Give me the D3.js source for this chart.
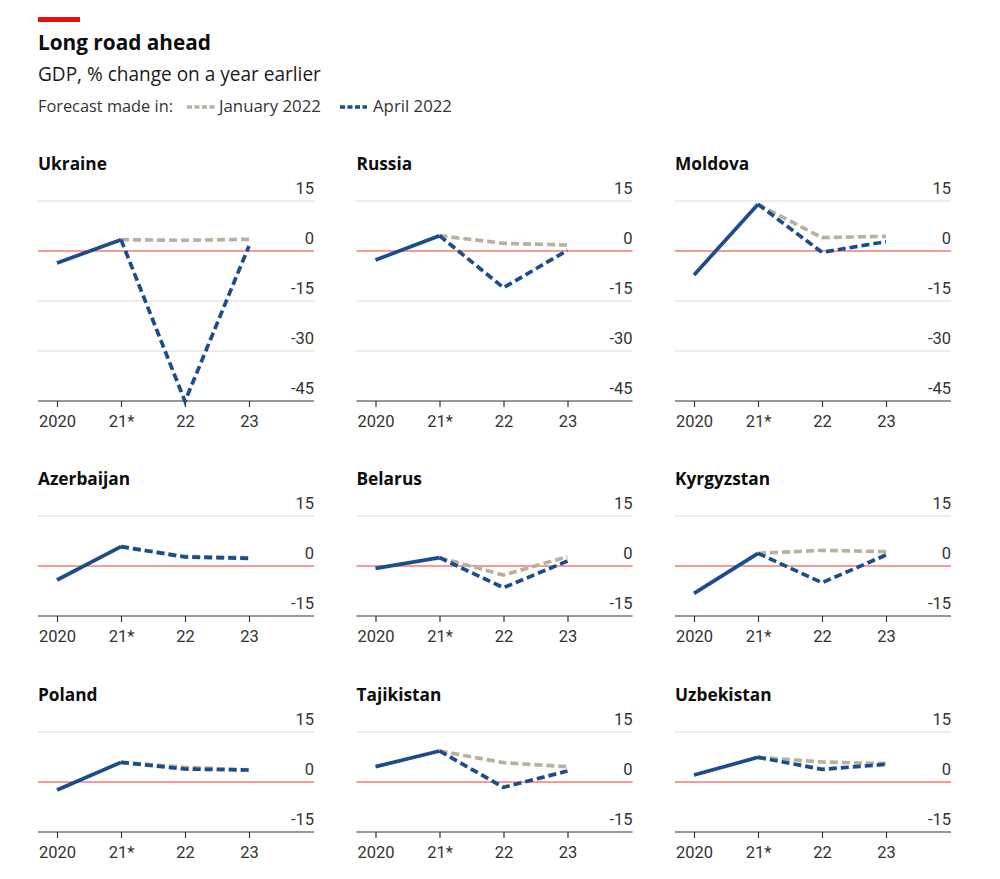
<!DOCTYPE html>
<html>
<head>
<meta charset="utf-8">
<script src="https://cdn.jsdelivr.net/npm/d3@7"></script>
<style>
  html, body { margin: 0; padding: 0; background: #fff; }
  svg { display: block; }
  text { font-family: "Open Sans", "Noto Sans", sans-serif; }
  .tk text { font-family: Roboto, "Noto Sans", sans-serif; }
</style>
</head>
<body>
<svg id="chart" width="1000" height="879"></svg>
<script>
// ---- Data ----
const years = ["2020", "21*", "22", "23"];
const countries = ["Ukraine", "Russia", "Moldova", "Azerbaijan", "Belarus", "Kyrgyzstan", "Poland", "Tajikistan", "Uzbekistan"];
const actual2020   = [-3.6, -2.7, -7.2, -4.2, -0.7, -8.2, -2.4, 4.6, 2.1];
const estimate2021 = [3.4, 4.6, 14.0, 5.8, 2.5, 3.8, 5.9, 9.3, 7.4];
const jan2022For22 = [3.2, 2.3, 4.0, 2.9, -2.7, 4.7, 4.4, 5.8, 6.0];
const jan2022For23 = [3.5, 1.8, 4.4, 2.5, 2.8, 4.3, 3.6, 4.6, 5.5];
const apr2022For22 = [-45.1, -11.0, -0.4, 2.7, -6.5, -5.0, 3.9, -1.6, 3.8];
const apr2022For23 = [1.5, 0.2, 2.8, 2.3, 1.5, 3.3, 3.6, 3.3, 5.3];
const yTicksDeep = [15, 0, -15, -30, -45];
const yTicksShallow = [15, 0, -15];

// ---- Styles ----
const BLUE = "#1b4d8c";
const GRAY = "#b6b1a1";
const RED_ZERO = "#ef7d76";
const GRID = "#d9d9d9";

const svg = d3.select("#chart");

// scale a text's font-size so that it spans the given width
function fitWidth(sel, target) {
  const fs = +sel.attr("font-size");
  const w = sel.node().getComputedTextLength();
  if (w > 0) sel.attr("font-size", (fs * target / w).toFixed(2));
  return sel;
}

// Header
svg.append("rect").attr("x", 38).attr("y", 17).attr("width", 42).attr("height", 5).attr("fill", "#e3120b");
fitWidth(svg.append("text").attr("x", 38).attr("y", 50).attr("font-size", 20).attr("font-weight", 700)
  .attr("fill", "#0d0d0d").text("Long road ahead"), 173);
fitWidth(svg.append("text").attr("x", 38).attr("y", 81).attr("font-size", 18).attr("fill", "#1a1a1a")
  .text("GDP, % change on a year earlier"), 283);
const legY = 107;
fitWidth(svg.append("text").attr("x", 38).attr("y", legY + 5).attr("font-size", 15).attr("fill", "#333")
  .text("Forecast made in:"), 135);
svg.append("line").attr("x1", 187).attr("x2", 215).attr("y1", legY).attr("y2", legY)
  .attr("stroke", GRAY).attr("stroke-width", 3.5).attr("stroke-dasharray", "5,2.5");
fitWidth(svg.append("text").attr("x", 219).attr("y", legY + 5).attr("font-size", 15).attr("fill", "#333")
  .text("January 2022"), 102);
svg.append("line").attr("x1", 340).attr("x2", 367).attr("y1", legY).attr("y2", legY)
  .attr("stroke", BLUE).attr("stroke-width", 3.5).attr("stroke-dasharray", "5,2.5");
fitWidth(svg.append("text").attr("x", 373).attr("y", legY + 5).attr("font-size", 15).attr("fill", "#333")
  .text("April 2022"), 79);

// panel title size from the "Ukraine" reference width
const probe = svg.append("text").attr("font-size", 17).attr("font-weight", 700).text("Ukraine");
const titleSize = 17 * 69 / probe.node().getComputedTextLength();
probe.remove();

// Layout
const colX = [38, 356.5, 675];
const rowTop = [201, 516, 732];
const panelW = 276;

countries.forEach((name, i) => {
  const col = i % 3, row = Math.floor(i / 3);
  const ticks = row === 0 ? yTicksDeep : yTicksShallow;
  const h = row === 0 ? 200 : 100;
  const g = svg.append("g").attr("transform", `translate(${colX[col]},${rowTop[row]})`);

  const x = d3.scalePoint().domain(years).range([19, 211]);
  const y = d3.scaleLinear().domain([d3.min(ticks), d3.max(ticks)]).range([h, 0]);

  // title
  g.append("text").attr("x", 0).attr("y", -31).attr("font-size", titleSize.toFixed(2)).attr("font-weight", 700)
    .attr("fill", "#0d0d0d").text(name);

  // gridlines (excluding zero and bottom)
  ticks.forEach(t => {
    if (t === 0 || t === d3.min(ticks)) return;
    g.append("line").attr("x1", 0).attr("x2", panelW).attr("y1", y(t)).attr("y2", y(t))
      .attr("stroke", GRID).attr("stroke-width", 1);
  });

  // y labels via axis
  const yAxis = d3.axisRight(y).tickValues(ticks).tickSize(0).tickFormat(d => d < 0 ? "-" + Math.abs(d) : d);
  const ya = g.append("g").attr("class", "tk").attr("transform", `translate(${panelW},0)`).call(yAxis);
  ya.select(".domain").remove();
  ya.selectAll("text").attr("text-anchor", "end").attr("x", 0).attr("dy", "-0.45em")
    .attr("font-size", 16.5).attr("fill", "#333").attr("font-family", null);

  // x axis
  const xAxis = d3.axisBottom(x).tickSize(6).tickPadding(8);
  const xa = g.append("g").attr("class", "tk").attr("transform", `translate(0,${h})`).call(xAxis);
  xa.select(".domain").attr("d", `M0,0H${panelW}`).attr("stroke", "#333").attr("stroke-width", 1.2);
  xa.selectAll(".tick line").attr("stroke", "#333").attr("stroke-width", 1.2);
  xa.selectAll("text").attr("font-size", 16.5).attr("fill", "#333").attr("font-family", null);

  // zero line
  g.append("line").attr("x1", 0).attr("x2", panelW).attr("y1", y(0)).attr("y2", y(0))
    .attr("stroke", RED_ZERO).attr("stroke-width", 1.5);

  const line = d3.line().x(d => x(d.k)).y(d => y(d.v));
  const jan = [{k: "21*", v: estimate2021[i]}, {k: "22", v: jan2022For22[i]}, {k: "23", v: jan2022For23[i]}];
  const apr = [{k: "21*", v: estimate2021[i]}, {k: "22", v: apr2022For22[i]}, {k: "23", v: apr2022For23[i]}];
  const hist = [{k: "2020", v: actual2020[i]}, {k: "21*", v: estimate2021[i]}];

  g.append("path").attr("d", line(jan)).attr("fill", "none").attr("stroke", GRAY)
    .attr("stroke-width", 3.7).attr("stroke-dasharray", "8,4");
  g.append("path").attr("d", line(apr)).attr("fill", "none").attr("stroke", BLUE)
    .attr("stroke-width", 3.7).attr("stroke-dasharray", "8,4");
  g.append("path").attr("d", line(hist)).attr("fill", "none").attr("stroke", BLUE)
    .attr("stroke-width", 3.7).attr("stroke-linejoin", "round");
});
</script>
</body>
</html>
